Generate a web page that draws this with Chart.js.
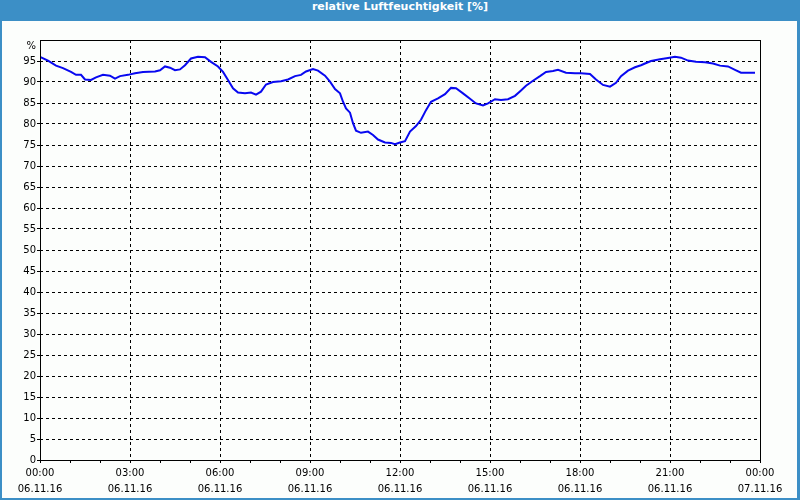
<!DOCTYPE html>
<html>
<head>
<meta charset="utf-8">
<script src="https://cdn.jsdelivr.net/npm/chart.js"></script>
<style>
  body { margin: 0; background: #fff; }
  #frame { position: relative; width: 800px; height: 500px; background: #3c8fc6; overflow: hidden; }
  #title { position: absolute; left: 0; top: 0; width: 800px; height: 21px; line-height: 20px;
           text-align: center; color: #fff; font: bold 11px "DejaVu Sans", sans-serif; }
  #box { position: absolute; left: 2px; top: 21px; width: 795px; height: 477px; background: #fcfefc; }
</style>
</head>
<body>
<div id="frame">
  <div id="title">relative Luftfeuchtigkeit [%]</div>
  <div id="box"><canvas id="myChart" width="795" height="477"></canvas></div>
</div>
<script>
// minutes since 06.11.16 00:00
var minutes = [0, 16, 32, 46, 62, 72, 82, 90, 102, 112, 126, 140, 150, 160, 176, 190, 206, 230, 240, 250,
  260, 270, 280, 290, 302, 316, 330, 342, 356, 366, 376, 386, 396, 410, 422, 432, 442, 452, 466, 482,
  496, 510, 522, 532, 546, 556, 570, 580, 590, 600, 606, 612, 620, 626, 632, 642, 656, 666, 676, 690,
  702, 710, 720, 730, 740, 752, 762, 772, 782, 796, 810, 822, 832, 846, 860, 872, 886, 896, 910, 922,
  936, 950, 962, 972, 986, 1000, 1012, 1026, 1036, 1052, 1070, 1082, 1100, 1112, 1126, 1140, 1152, 1162, 1176, 1190,
  1202, 1210, 1222, 1240, 1256, 1270, 1282, 1296, 1312, 1330, 1346, 1360, 1376, 1390, 1402, 1430];
var humidity = [96.0, 95.1, 93.9, 93.3, 92.4, 91.7, 91.7, 90.6, 90.5, 91.1, 91.7, 91.5, 90.8, 91.4, 91.7, 92.1, 92.4, 92.5, 92.8, 93.7,
  93.4, 92.8, 93.0, 94.0, 95.6, 96.0, 95.9, 94.8, 93.7, 92.4, 90.5, 88.5, 87.5, 87.3, 87.5, 87.0, 87.7, 89.4, 90.0, 90.2,
  90.6, 91.4, 91.7, 92.5, 93.1, 92.7, 91.5, 90.1, 88.3, 87.3, 85.3, 83.7, 82.7, 80.2, 78.4, 77.9, 78.2, 77.4, 76.3, 75.6,
  75.5, 75.2, 75.6, 75.9, 78.2, 79.5, 81.0, 83.3, 85.3, 86.1, 87.1, 88.6, 88.5, 87.3, 86.0, 84.9, 84.4, 84.9, 85.9, 85.7,
  85.9, 86.7, 88.0, 89.1, 90.3, 91.4, 92.4, 92.6, 92.9, 92.2, 92.1, 92.1, 91.9, 90.6, 89.3, 88.9, 89.8, 91.4, 92.7, 93.5,
  94.0, 94.4, 95.0, 95.4, 95.7, 96.0, 95.8, 95.1, 94.8, 94.7, 94.4, 93.9, 93.7, 92.9, 92.2, 92.2];

var timeLabels = ['00:00', '03:00', '06:00', '09:00', '12:00', '15:00', '18:00', '21:00', '00:00'];
var dateLabels = ['06.11.16', '06.11.16', '06.11.16', '06.11.16', '06.11.16', '06.11.16', '06.11.16', '06.11.16', '07.11.16'];

var points = minutes.map(function (m, i) { return { x: m, y: humidity[i] }; });

// frame around the plot and the "%" unit at the top of the y axis
var framePlugin = {
  id: 'frame',
  afterDraw: function (chart) {
    var a = chart.chartArea, c = chart.ctx;
    c.save();
    c.strokeStyle = '#000';
    c.lineWidth = 1;
    c.strokeRect(a.left + 0.5, a.top + 0.5, a.right - a.left, a.bottom - a.top);
    c.fillStyle = '#000';
    c.font = '10px "DejaVu Sans"';
    c.textAlign = 'right';
    c.textBaseline = 'middle';
    c.fillText('%', a.left - 4, a.top + 6);
    c.restore();
  }
};

var ctx = document.getElementById('myChart').getContext('2d');
var myChart = new Chart(ctx, {
  type: 'line',
  data: {
    datasets: [{
      data: points,
      borderColor: '#0808f0',
      borderWidth: 2,
      pointRadius: 0,
      tension: 0,
      fill: false
    }]
  },
  options: {
    responsive: false,
    animation: false,
    layout: { padding: { top: 19, right: 37, left: 0, bottom: 0 } },
    plugins: { legend: { display: false }, tooltip: { enabled: false } },
    scales: {
      x: {
        type: 'linear',
        min: 0,
        max: 1440,
        afterFit: function (s) { s.height = 38; },
        border: { display: false, dash: [3, 3] },
        grid: {
          color: function (c) {
            var v = c.tick && c.tick.value;
            return (v % 180 === 0 && v > 0 && v < 1440) ? '#000' : 'rgba(0,0,0,0)';
          },
          tickColor: '#000',
          tickLength: 3,
          lineWidth: 1
        },
        ticks: {
          stepSize: 60,
          autoSkip: false,
          maxRotation: 0,
          padding: 2,
          color: '#000',
          font: { family: 'DejaVu Sans', size: 10, lineHeight: 1.6 },
          callback: function (v) {
            if (v % 180 !== 0) return '';
            var i = v / 180;
            return [timeLabels[i], dateLabels[i]];
          }
        }
      },
      y: {
        min: 0,
        max: 100,
        afterFit: function (s) { s.width = 38; },
        border: { display: false, dash: [3, 3] },
        grid: {
          color: function (c) {
            var v = c.tick && c.tick.value;
            return (v > 0 && v < 100) ? '#000' : 'rgba(0,0,0,0)';
          },
          tickColor: function (c) {
            return (c.tick && c.tick.value === 100) ? 'rgba(0,0,0,0)' : '#000';
          },
          tickLength: 3,
          lineWidth: 1
        },
        ticks: {
          stepSize: 5,
          padding: 1,
          color: '#000',
          font: { family: 'DejaVu Sans', size: 10 },
          callback: function (v) { return v === 100 ? '' : String(v); }
        }
      }
    }
  },
  plugins: [framePlugin]
});
</script>
</body>
</html>
